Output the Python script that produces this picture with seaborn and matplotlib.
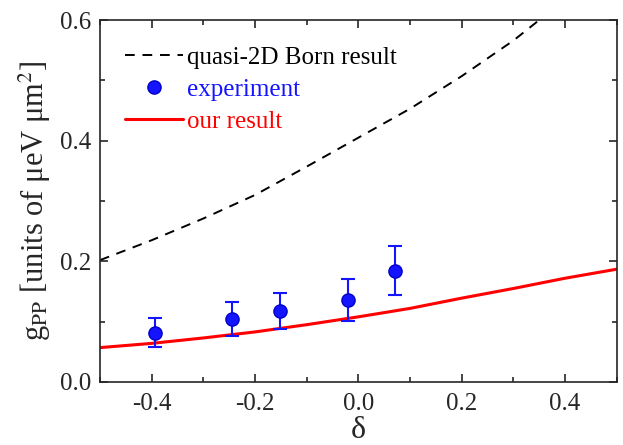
import numpy as np
import pandas as pd
import matplotlib
matplotlib.use("Agg")
import matplotlib.pyplot as plt
import seaborn as sns
from matplotlib.ticker import MultipleLocator
from matplotlib.lines import Line2D

# Data
born_x = [-0.5, -0.4, -0.3, -0.2, -0.1, 0.0, 0.1, 0.2, 0.3, 0.35, 0.4, 0.5]
born_y = [0.202, 0.235, 0.271, 0.310, 0.357, 0.405, 0.453, 0.507, 0.566, 0.600, 0.630, 0.690]
ours_x = [-0.5, -0.4, -0.3, -0.2, -0.1, 0.0, 0.1, 0.2, 0.3, 0.4, 0.5]
ours_y = [0.057, 0.064, 0.073, 0.083, 0.095, 0.108, 0.122, 0.139, 0.155, 0.172, 0.187]
exp_x = [-0.394, -0.244, -0.152, -0.020, 0.071]
exp_y = [0.082, 0.104, 0.117, 0.136, 0.184]
exp_lo = [0.058, 0.077, 0.088, 0.101, 0.144]
exp_hi = [0.106, 0.133, 0.148, 0.171, 0.226]

sns.set_style("ticks")
plt.rcParams['font.family'] = ['Liberation Serif', 'DejaVu Serif']
plt.rcParams['mathtext.fontset'] = 'stix'

fig = plt.figure(figsize=(6.23, 4.45), dpi=100)
ax = fig.add_axes([0.1605, 0.1416, 0.8295, 0.8134])

df_b = pd.DataFrame({"x": born_x, "y": born_y})
df_o = pd.DataFrame({"x": ours_x, "y": ours_y})
sns.lineplot(data=df_b, x="x", y="y", ax=ax, color="black", lw=1.4,
             linestyle=(0, (5, 4)), legend=False)
yerr = [np.array(exp_y) - np.array(exp_lo), np.array(exp_hi) - np.array(exp_y)]
blue = '#1414ff'
ax.errorbar(exp_x, exp_y, yerr=yerr, fmt='o', color=blue, ecolor=blue,
            markersize=9.5, capsize=5, capthick=1.5, elinewidth=1.5,
            markeredgecolor='#0000c8', zorder=3)
sns.lineplot(data=df_o, x="x", y="y", ax=ax, color="red", lw=2.2, legend=False)

ax.set_xlim(-0.5, 0.5)
ax.set_ylim(0, 0.6)
ax.xaxis.set_major_locator(MultipleLocator(0.2))
ax.xaxis.set_minor_locator(MultipleLocator(0.1))
ax.yaxis.set_major_locator(MultipleLocator(0.2))
ax.yaxis.set_minor_locator(MultipleLocator(0.1))
ax.tick_params(which='both', direction='in', top=True, right=True, width=1.2)
ax.tick_params(which='major', length=6, labelsize=18)
ax.tick_params(axis='x', which='major', pad=8)
ax.tick_params(axis='y', which='major', pad=6)
ax.tick_params(which='minor', length=3.5)
ax.xaxis.set_major_formatter(matplotlib.ticker.FormatStrFormatter('%.1f'))
ax.yaxis.set_major_formatter(matplotlib.ticker.FormatStrFormatter('%.1f'))
for s in ax.spines.values():
    s.set_linewidth(1.2)

ax.set_xlabel("δ", fontsize=23, labelpad=1)
ax.set_ylabel(r"g$_{\mathrm{PP}}$ [units of μeV μm$^2$]", fontsize=22, labelpad=5)

handles = [Line2D([], [], color='black', lw=1.4, linestyle=(0, (5, 4))),
           Line2D([], [], color=blue, marker='o', markersize=9.5, linestyle='none',
                  markeredgecolor='#0000c8'),
           Line2D([], [], color='red', lw=2.2)]
labels = ["quasi-2D Born result", "experiment", "our result"]
leg = ax.legend(handles, labels, loc='upper left', frameon=False, fontsize=18,
                handlelength=2.3, handletextpad=0.15, labelspacing=0.38,
                borderaxespad=0.0, bbox_to_anchor=(0.03, 0.955))
for t, c in zip(leg.get_texts(), ['black', blue, 'red']):
    t.set_color(c)

fig.savefig("out.png", dpi=100)
